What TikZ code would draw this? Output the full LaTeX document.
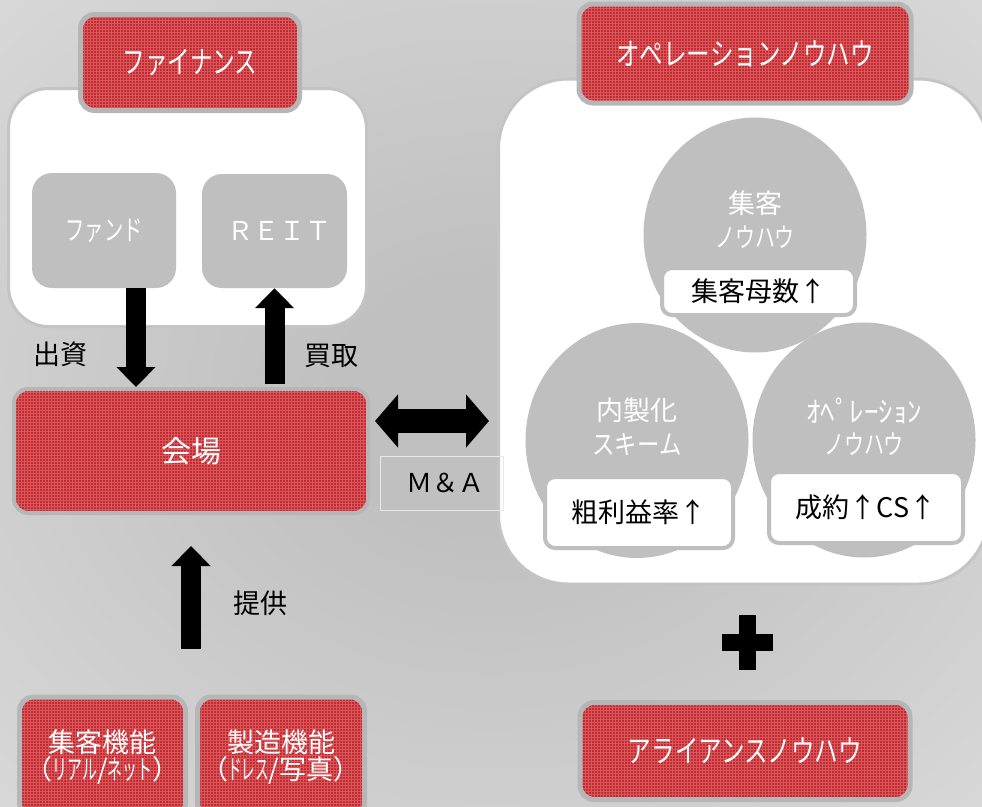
\documentclass[tikz,border=0pt]{standalone}
\usepackage{fontspec}
\usepackage{graphicx}
\setmainfont{Noto Sans CJK JP}
\setsansfont{Noto Sans CJK JP}
\usetikzlibrary{arrows.meta,shapes.geometric,patterns,calc}
\definecolor{redc}{RGB}{196,42,48}
\definecolor{redl}{RGB}{214,88,92}
\definecolor{rborder}{RGB}{182,182,182}
\definecolor{boxgray}{RGB}{191,191,191}
\definecolor{cborder}{RGB}{196,196,196}
\definecolor{bgin}{RGB}{192,192,192}
\definecolor{bgout}{RGB}{228,228,228}
\definecolor{mabord}{RGB}{232,232,232}
\pgfdeclareradialshading{bgshade}{\pgfpoint{0bp}{0bp}}{color(0bp)=(bgin); color(8bp)=(bgin); color(50bp)=(bgout)}
\newcommand{\jfs}[2]{\fontsize{#1}{#2}\selectfont}
\newcommand{\hx}[2]{\scalebox{#1}[1]{#2}}
\begin{document}
\begin{tikzpicture}[x=1pt,y=-1pt,
  redbox/.style={draw=rborder, line width=5pt, rounded corners=14pt,
    preaction={fill=redc}, preaction={pattern=grid, pattern color=redl},
    text=white, inner sep=0pt, align=center, font=\jfs{24}{30}},
  container/.style={draw=cborder, line width=3pt, fill=white, inner sep=0pt},
  graybox/.style={fill=boxgray, rounded corners=20pt, text=white, inner sep=0pt},
  circ/.style={ellipse, fill=boxgray, inner sep=0pt, minimum width=223pt, minimum height=235pt},
  circtext/.style={text=white, align=center, inner sep=0pt, font=\jfs{27}{34}},
  whitebox/.style={draw=boxgray, line width=4pt, fill=white, rounded corners=10pt, inner sep=0pt, text=black, font=\jfs{27}{30}},
  lbl/.style={text=black, inner sep=0pt, font=\jfs{27}{30}},
  bigarrow/.style={line width=20pt, -{Triangle[width=38pt,length=20pt]}},
  dblarrow/.style={line width=24pt, {Triangle[width=52pt,length=23pt]}-{Triangle[width=52pt,length=23pt]}}
]
\useasboundingbox (0,0) rectangle (982,806);
\shade[shading=bgshade] (0,0) rectangle (982,806);

% ---------- Finance ----------
\node[container, rounded corners=40pt, minimum width=358pt, minimum height=238pt] (fin) at (187.5,207.5) {};
\node[redbox, minimum width=219pt, minimum height=96pt, font=\jfs{31}{30}] (finT) at (190,62.5) {\hx{0.73}{ファイナンス}};
\node[graybox, minimum width=144pt, minimum height=115pt, font=\jfs{28}{30}] (fund) at (104,230.5) {\hx{0.69}{ファンド}};
\node[graybox, minimum width=145pt, minimum height=114pt, font=\jfs{26}{30}] (reit) at (274.5,231) {\hspace{0.4em}ＲＥＩＴ};

% ---------- Venue ----------
\node[redbox, line width=4pt, minimum width=354pt, minimum height=124pt, font=\jfs{30}{30}] (venue) at (191,451) {会場};

\draw[bigarrow] ([xshift=32pt]fund.south) -- ([xshift=32pt]fund.south |- venue.north);
\draw[bigarrow] ($(reit.south |- venue.north)+(0,-3)$) -- (reit.south);
\node[lbl] (l1) at (60,354) {出資};
\node[lbl] (l2) at (331,356) {買取};

% ---------- Operation ----------
\node[container, rounded corners=70pt, minimum width=490pt, minimum height=505pt] (ops) at (743.5,331.5) {};
\node[redbox, minimum width=332pt, minimum height=99pt, font=\jfs{31}{30}] (opsT) at (745,53.5) {\hx{0.76}{オペレーションノウハウ}};

\node[circ] (c1) at (755,235) {};
\node[circtext] (c1t) at (755,220) {集客\\\hx{0.74}{ノウハウ}};
\node[whitebox, minimum width=193pt, minimum height=47pt] (w1) at (758.5,291.5) {集客母数↑};

\node[circ] (c2) at (637,440.5) {};
\node[circtext] (c2t) at (637,427) {内製化\\\hx{0.83}{スキーム}};
\node[whitebox, minimum width=188pt, minimum height=71pt] (w2) at (639,512.5) {粗利益率↑};

\node[circ] (c3) at (864,440) {};
\node[circtext, font=\jfs{29}{34}] (c3t) at (864,427) {ｵﾍﾟﾚｰｼｮﾝ\\[-2pt]{\jfs{27}{34}\hx{0.74}{ノウハウ}}};
\node[whitebox, minimum width=194pt, minimum height=71pt] (w3) at (866,507.5) {成約↑CS↑};

% ---------- M&A ----------
\draw[dblarrow] ($(venue.east)+(5,-30)$) -- ($(venue.east -| ops.west)+(-8,-30)$);
\node[draw=mabord, line width=1pt, minimum width=123pt, minimum height=54pt, inner sep=0pt, font=\jfs{26}{30}] (ma) at (441.5,483) {\hspace{0.3em}Ｍ＆Ａ};

% ---------- Provide ----------
\coordinate (pTop) at ($(venue.south)+(0,31)$);
\coordinate (pBot) at ($(venue.south)+(0,134)$);
\draw[bigarrow] (pBot) -- (pTop);
\node[lbl] (l3) at (260,603) {提供};

\node[redbox, minimum width=166pt, minimum height=120pt] (b1) at (102.5,757) {{\jfs{27}{30}集客機能}\\[-3pt]{\jfs{27}{30}（\hx{0.55}{リアル}/\hx{0.55}{ネット}）}};
\node[redbox, minimum width=167pt, minimum height=120pt] (b2) at (281,757) {{\jfs{27}{30}製造機能}\\[-3pt]{\jfs{27}{30}（\hx{0.5}{ドレス}/写真）}};

% ---------- Plus and alliance ----------
\fill (722,634) rectangle (773,651);
\fill (739,615) rectangle (756,670);
\node[redbox, minimum width=330pt, minimum height=97pt, font=\jfs{31}{30}] (ally) at (745,751) {\hx{0.76}{アライアンスノウハウ}};
\end{tikzpicture}
\end{document}
